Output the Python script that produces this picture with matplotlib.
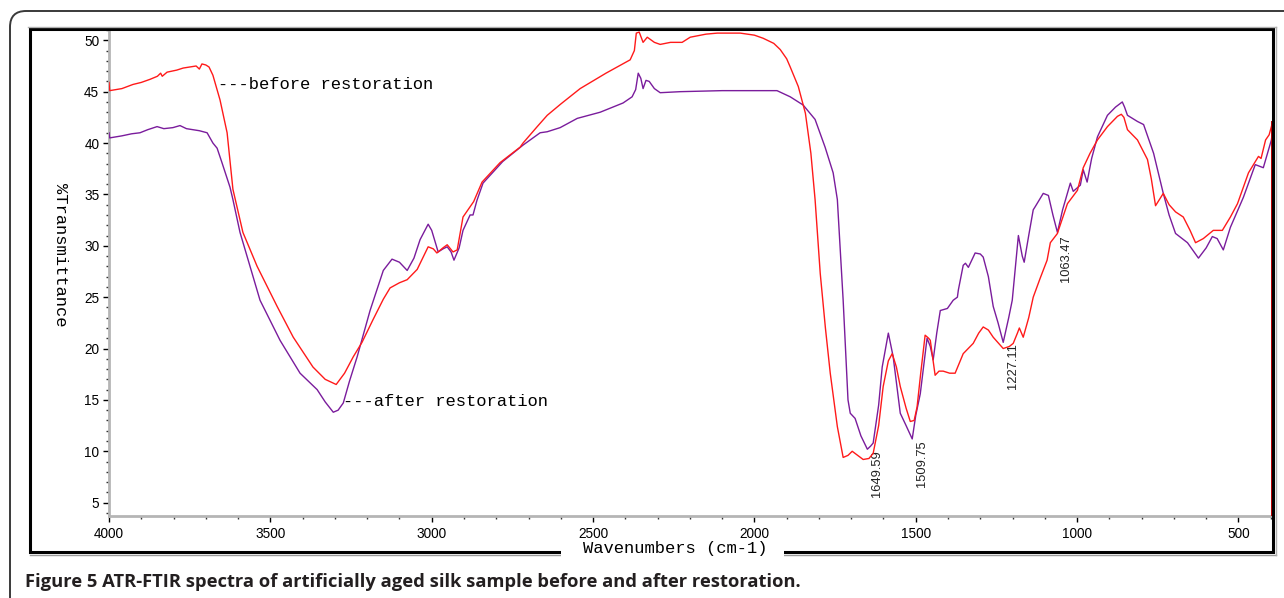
import matplotlib
matplotlib.use("Agg")
import matplotlib.pyplot as plt
from matplotlib.patches import FancyBboxPatch, Rectangle
from matplotlib.lines import Line2D
from matplotlib.transforms import IdentityTransform
from matplotlib.ticker import MultipleLocator

# ---------------- data ----------------
wn_before = [4000, 3998, 3960, 3926, 3900, 3873, 3850, 3840, 3835, 3820, 3790, 3770, 3749, 3730,
             3720, 3712, 3700, 3690, 3678, 3656, 3634, 3616, 3585, 3541, 3479, 3429, 3368, 3330,
             3296, 3270, 3243, 3216, 3182, 3150, 3129, 3100, 3076, 3045, 3011, 2995, 2984, 2965,
             2952, 2934, 2921, 2903, 2881, 2870, 2844, 2788, 2726, 2717, 2673, 2642, 2600, 2540,
             2460, 2385, 2372, 2366, 2357, 2345, 2332, 2310, 2292, 2260, 2224, 2199, 2150, 2115,
             2044, 2000, 1973, 1940, 1920, 1900, 1889, 1864, 1842, 1825, 1812, 1796, 1780, 1765,
             1743, 1725, 1710, 1697, 1680, 1663, 1645, 1632, 1615, 1601, 1585, 1573, 1560, 1548,
             1530, 1517, 1505, 1496, 1485, 1471, 1460, 1455, 1440, 1428, 1415, 1395, 1378, 1353,
             1322, 1305, 1291, 1275, 1260, 1229, 1210, 1198, 1185, 1179, 1167, 1150, 1136, 1115,
             1093, 1083, 1061, 1058, 1030, 999, 981, 960, 937, 906, 875, 863, 855, 844, 813, 782,
             770, 757, 745, 733, 715, 695, 671, 650, 633, 609, 578, 550, 525, 503, 469, 438, 430,
             416, 405, 398, 395]
t_before = [45.9, 45.1, 45.3, 45.7, 45.9, 46.2, 46.5, 46.8, 46.5, 46.9, 47.1, 47.3, 47.4, 47.5,
            47.2, 47.7, 47.6, 47.4, 46.6, 44.2, 41.0, 35.5, 31.3, 28.0, 24.1, 21.1, 18.2, 17.0,
            16.5, 17.6, 19.2, 20.6, 22.8, 24.8, 25.9, 26.4, 26.7, 27.7, 29.9, 29.7, 29.3, 29.8,
            30.1, 29.4, 29.6, 32.8, 33.8, 34.3, 36.2, 38.1, 39.6, 40.0, 41.6, 42.7, 43.8, 45.3,
            46.8, 48.1, 49.0, 50.7, 50.8, 49.8, 50.3, 49.8, 49.6, 49.8, 49.8, 50.3, 50.6, 50.7,
            50.7, 50.5, 50.2, 49.7, 49.1, 48.2, 47.4, 45.5, 42.9, 39.0, 34.5, 27.3, 22.0, 17.6,
            12.4, 9.4, 9.6, 10.0, 9.6, 9.2, 9.3, 9.8, 12.5, 16.3, 18.8, 19.5, 18.2, 16.3,
            14.2, 12.9, 13.0, 14.3, 17.5, 21.3, 21.0, 20.8, 17.4, 17.8, 17.8, 17.6, 17.6, 19.5,
            20.5, 21.5, 22.1, 21.8, 21.1, 20.0, 20.2, 20.5, 21.5, 22.0, 21.1, 23.0, 25.0, 26.8,
            28.6, 30.3, 31.2, 31.5, 34.1, 35.4, 37.6, 39.0, 40.3, 41.6, 42.6, 42.8, 42.5, 41.3,
            40.3, 38.4, 36.5, 33.9, 34.5, 35.1, 34.0, 33.3, 32.8, 31.5, 30.3, 30.7, 31.5, 31.5,
            32.8, 34.1, 37.1, 38.7, 38.5, 40.3, 40.8, 41.6, 42.0]

wn_after = [4000, 3998, 3960, 3930, 3904, 3880, 3851, 3830, 3802, 3780, 3760, 3740, 3720, 3696,
            3678, 3665, 3650, 3625, 3616, 3594, 3532, 3470, 3408, 3355, 3330, 3305, 3290, 3274,
            3255, 3231, 3191, 3150, 3123, 3100, 3076, 3055, 3036, 3011, 3000, 2980, 2965, 2952,
            2940, 2931, 2915, 2903, 2881, 2872, 2860, 2841, 2780, 2717, 2664, 2642, 2602, 2549,
            2478, 2407, 2379, 2368, 2360, 2352, 2345, 2336, 2326, 2310, 2292, 2230, 2100, 2000,
            1930, 1889, 1849, 1812, 1781, 1756, 1743, 1725, 1710, 1703, 1688, 1670, 1650, 1640,
            1632, 1615, 1604, 1585, 1570, 1548, 1530, 1511, 1500, 1486, 1465, 1455, 1446, 1435,
            1424, 1402, 1384, 1371, 1368, 1353, 1346, 1337, 1316, 1300, 1291, 1275, 1260, 1245,
            1229, 1212, 1201, 1182, 1170, 1164, 1150, 1136, 1130, 1105, 1089, 1075, 1061, 1045,
            1021, 1012, 990, 981, 969, 955, 937, 906, 881, 860, 853, 844, 813, 794, 763, 733,
            715, 695, 658, 624, 600, 581, 566, 547, 525, 485, 448, 423, 410, 398, 395]
t_after = [41.0, 40.5, 40.7, 40.9, 41.0, 41.3, 41.6, 41.4, 41.5, 41.7, 41.4, 41.3, 41.2, 41.0,
           40.0, 39.5, 38.1, 35.7, 34.5, 31.3, 24.7, 20.8, 17.6, 16.0, 14.8, 13.8, 14.0, 14.7,
           16.8, 19.2, 23.7, 27.6, 28.7, 28.4, 27.6, 28.8, 30.6, 32.1, 31.5, 29.4, 29.7, 29.9,
           29.4, 28.6, 29.8, 31.5, 33.0, 33.0, 34.4, 36.1, 38.2, 39.8, 41.0, 41.1, 41.5, 42.4,
           43.0, 43.9, 44.5, 45.2, 46.8, 46.3, 45.3, 46.1, 46.0, 45.3, 44.9, 45.0, 45.1, 45.1,
           45.1, 44.5, 43.7, 42.3, 39.6, 37.1, 34.5, 24.7, 15.0, 13.7, 13.2, 11.5, 10.2, 10.5,
           10.8, 14.5, 18.2, 21.5, 19.2, 13.7, 12.5, 11.2, 13.5, 15.6, 21.0, 20.2, 18.9, 21.5,
           23.7, 23.9, 24.7, 25.0, 25.7, 28.1, 28.3, 27.9, 29.3, 29.2, 28.9, 27.0, 24.1, 22.5,
           20.6, 23.0, 24.7, 31.0, 29.0, 28.4, 31.0, 33.5, 33.8, 35.1, 34.9, 33.0, 31.3, 33.5,
           36.1, 35.3, 35.9, 37.4, 36.2, 38.5, 40.6, 42.7, 43.5, 44.0, 43.5, 42.7, 42.1, 41.8,
           39.0, 35.1, 33.0, 31.2, 30.3, 28.8, 29.8, 30.9, 30.7, 29.6, 31.8, 34.7, 37.9, 37.6,
           39.0, 40.3, 41.0]

peak_labels = ["1649.59", "1509.75", "1227.11", "1063.47"]
peak_label_x = [1619, 1480, 1198, 1033]
peak_label_y = [10.1, 11.1, 20.5, 31.0]

series_labels = ["---before restoration", "---after restoration"]
series_label_x = [3662, 3275]
series_label_y = [45.67, 14.8]

y_ticks = [5, 10, 15, 20, 25, 30, 35, 40, 45, 50]
x_ticks = [4000, 3500, 3000, 2500, 2000, 1500, 1000, 500]

RED = "#ff1a1a"
PURPLE = "#7a1c9c"

W, H = 1284, 598
fig = plt.figure(figsize=(W / 100, H / 100), dpi=100)
fig.patch.set_facecolor("white")


def fx(x):
    return x / W


def fy(y):
    return 1 - y / H


ax = fig.add_axes([fx(109), fy(516), fx(1273) - fx(109), fy(29) - fy(516)])
ax.plot(wn_after, t_after, color=PURPLE, lw=1.0, zorder=3)
ax.plot(wn_before, t_before, color=RED, lw=1.0, zorder=4)
ax.plot([wn_before[-1], wn_before[-1]], [t_before[-1], 3.7], color="#c00000", lw=1.4, zorder=4)

ax.set_xlim(4000, 393)
ax.set_ylim(3.7, 51.1)
ax.set_xticks(x_ticks)
ax.set_yticks(y_ticks)
ax.xaxis.set_minor_locator(MultipleLocator(100))
ax.yaxis.set_minor_locator(MultipleLocator(1))
for s in ["top", "right"]:
    ax.spines[s].set_visible(False)
for s in ["left", "bottom"]:
    ax.spines[s].set_color("#b5b5b5")
    ax.spines[s].set_linewidth(2.0)
ax.tick_params(which="major", direction="out", length=4, width=1, color="black",
               labelsize=9.8, pad=3)
ax.tick_params(which="minor", direction="out", length=2, width=1, color="#333333")
for lab in ax.get_xticklabels() + ax.get_yticklabels():
    lab.set_fontfamily("Liberation Sans")
ax.tick_params(axis="x", pad=4)

mono = "Liberation Mono"
for txt, x, y in zip(series_labels, series_label_x, series_label_y):
    ax.text(x, y, txt, family=mono, fontsize=12.3, ha="left", va="center", color="black")

for txt, x, y in zip(peak_labels, peak_label_x, peak_label_y):
    ax.text(x, y, txt, family="Liberation Sans", fontsize=9.3, rotation=90,
            ha="center", va="top", color="#222222")

# y label
fig.text(fx(60), fy(255), "%Transmittance", family=mono, fontsize=12.3, rotation=270,
         ha="center", va="center")

# ---------------- frames ----------------
idt = IdentityTransform()
outer = FancyBboxPatch((10, -60), 1400, (H - 11) + 60,
                       boxstyle="round,pad=0,rounding_size=16",
                       transform=idt, fill=False, ec="#3a3a3a", lw=1.4)
fig.add_artist(outer)
# gray shadow lines
fig.add_artist(Line2D([28, 1276], [H - 27, H - 27], transform=idt, color="#b0b0b0", lw=1.0))
fig.add_artist(Line2D([30, 1276], [H - 555, H - 555], transform=idt, color="#9a9a9a", lw=1.0))
fig.add_artist(Line2D([1275.5, 1275.5], [H - 555, H - 27], transform=idt, color="#b0b0b0", lw=1.0))
inner = Rectangle((30, H - 552), 1273 - 30, 552 - 29, transform=idt, fill=False,
                  ec="black", lw=2.2)
fig.add_artist(inner)
# white gap for x label
gap = Rectangle((561, H - 560), 784 - 561, 16, transform=idt, fc="white", ec="none", zorder=5)
fig.add_artist(gap)
fig.text(fx(675), fy(548), "Wavenumbers (cm-1)", family=mono, fontsize=12.3,
         ha="center", va="center", zorder=6)

# caption
fig.text(fx(25), fy(582), "Figure 5 ATR-FTIR spectra of artificially aged silk sample before and after restoration.",
         family="Open Sans", fontweight="bold", fontsize=13.2, color="#231f20",
         ha="left", va="center")

fig.savefig("out.png", dpi=100)
